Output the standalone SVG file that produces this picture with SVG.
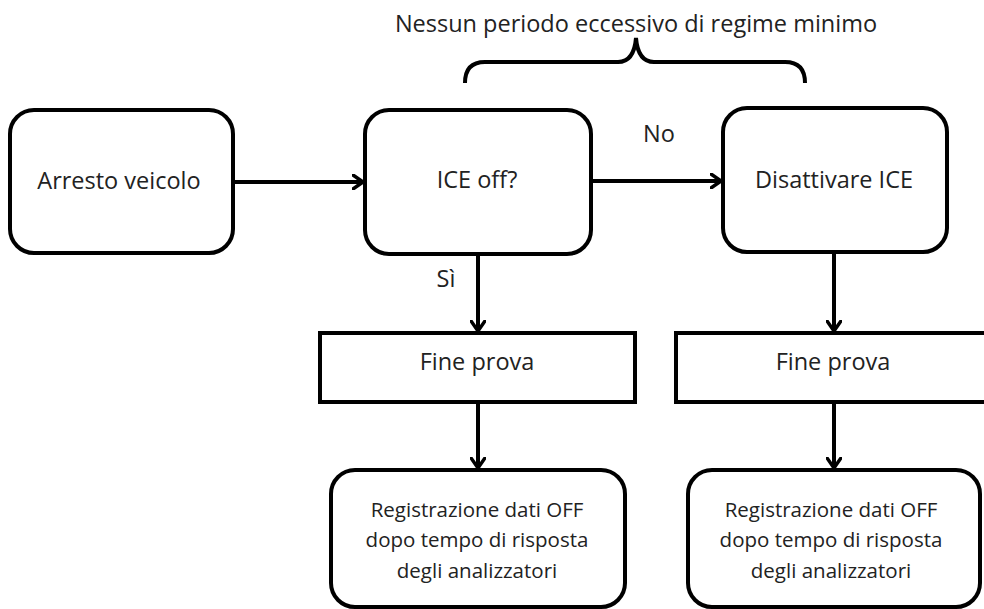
<svg xmlns="http://www.w3.org/2000/svg" width="984" height="609" viewBox="0 0 984 609">
<style>
.box{fill:#fff;stroke:#000;stroke-width:4}
.t{font-family:"Open Sans","Liberation Sans",sans-serif;font-size:23.5px;fill:#222;text-anchor:middle}
.s{font-size:20.5px}
.c{fill:none;stroke:#000;stroke-width:4}
</style>
<defs>
<marker id="ah" viewBox="0 0 12 16" refX="11" refY="8" markerWidth="12" markerHeight="16" markerUnits="userSpaceOnUse" orient="auto">
<path d="M1,1 L11,8 L1,15" fill="none" stroke="#000" stroke-width="3.5" stroke-linecap="round" stroke-linejoin="round"/>
</marker>
</defs>
<rect width="984" height="609" fill="#fff"/>
<g id="brace">
<text class="t" x="636" y="32" font-size="23.3">Nessun periodo eccessivo di regime minimo</text>
<path class="c" d="M465,83 Q465,62 485,62 L618,62 Q634,62 636,38 Q638,62 654,62 L785,62 Q805,62 805,83"/>
</g>
<g id="connectors">
<line class="c" x1="233" y1="182" x2="363" y2="182" marker-end="url(#ah)"/>
<line class="c" x1="591" y1="181" x2="721" y2="181" marker-end="url(#ah)"/>
<line class="c" x1="478" y1="254" x2="478" y2="331" marker-end="url(#ah)"/>
<line class="c" x1="478" y1="402" x2="478" y2="468" marker-end="url(#ah)"/>
<line class="c" x1="834" y1="252" x2="834" y2="331" marker-end="url(#ah)"/>
<line class="c" x1="834" y1="402" x2="834" y2="468" marker-end="url(#ah)"/>
<text class="t" x="659" y="142">No</text>
<text class="t" x="446" y="287">Sì</text>
</g>
<g id="arresto">
<rect class="box" x="10" y="110" width="223" height="143" rx="24"/>
<text class="t" x="119" y="189">Arresto veicolo</text>
</g>
<g id="iceoff">
<rect class="box" x="365" y="110" width="226" height="144" rx="24"/>
<text class="t" x="477" y="188">ICE off?</text>
</g>
<g id="disattivare">
<rect class="box" x="723" y="108" width="224" height="144" rx="24"/>
<text class="t" x="834" y="188">Disattivare ICE</text>
</g>
<g id="fine1">
<rect class="box" x="320" y="333" width="315" height="69"/>
<text class="t" x="477" y="370">Fine prova</text>
</g>
<g id="fine2">
<rect class="box" x="676" y="333" width="315" height="69"/>
<text class="t" x="833" y="370">Fine prova</text>
</g>
<g id="reg1">
<rect class="box" x="331" y="470" width="294" height="137" rx="24"/>
<text class="t s" x="477" y="517">Registrazione dati OFF</text>
<text class="t s" x="477" y="547">dopo tempo di risposta</text>
<text class="t s" x="477" y="578">degli analizzatori</text>
</g>
<g id="reg2">
<rect class="box" x="688" y="470" width="292" height="137" rx="24"/>
<text class="t s" x="831" y="517">Registrazione dati OFF</text>
<text class="t s" x="831" y="547">dopo tempo di risposta</text>
<text class="t s" x="831" y="578">degli analizzatori</text>
</g>
</svg>
